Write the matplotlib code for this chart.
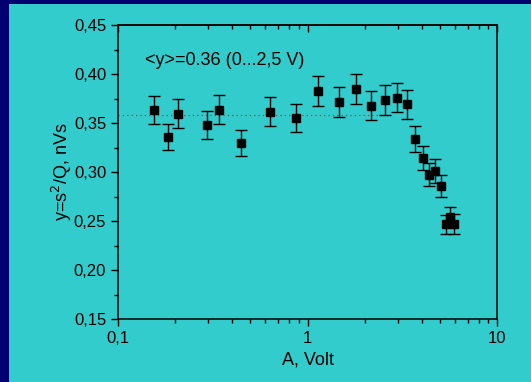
import numpy as np
import matplotlib.pyplot as plt
from matplotlib.patches import Rectangle
from matplotlib.ticker import FixedLocator, FuncFormatter, LogLocator, NullFormatter

plt.rcParams['font.family'] = ['Liberation Sans', 'DejaVu Sans']

# data
amp = [0.155, 0.184, 0.208, 0.294, 0.341, 0.448, 0.634, 0.873, 1.132, 1.467,
       1.80, 2.163, 2.55, 2.96, 3.34, 3.69, 4.07, 4.38, 4.72, 5.05,
       5.65, 5.38, 5.91]
yval = [0.3633, 0.3354, 0.3595, 0.3477, 0.3636, 0.3299, 0.3615, 0.3551, 0.3827, 0.3714,
        0.3844, 0.3677, 0.3735, 0.3758, 0.3691, 0.334, 0.314, 0.2972, 0.301, 0.2857,
        0.2541, 0.2466, 0.2469]
yerr = [0.0146, 0.0133, 0.0146, 0.0141, 0.0148, 0.0133, 0.0146, 0.0143, 0.0155, 0.015,
        0.0153, 0.0146, 0.015, 0.015, 0.0148, 0.0134, 0.0124, 0.0119, 0.0122, 0.0112,
        0.0102, 0.0098, 0.0098]
mean_y = 0.358
mean_range = [0.1, 2.7]

yticks = [0.15, 0.20, 0.25, 0.30, 0.35, 0.40, 0.45]

fig = plt.figure(figsize=(5.31, 3.82), dpi=100)
fig.patch.set_facecolor('#000070')
# cyan slide panel behind the axes
fig.patches.append(Rectangle((9 / 531, 0), 1, 1 - 4 / 382, transform=fig.transFigure,
                             facecolor='#33CCCC', edgecolor='none', zorder=-10))

ax = fig.add_axes([118 / 531, 1 - 319 / 382, (497 - 118) / 531, (319 - 25) / 382])
ax.set_facecolor('#33CCCC')

ax.plot(mean_range, [mean_y, mean_y], color='#c03030', linestyle=(0, (1, 2.5)), lw=0.9)
ax.errorbar(amp, yval, yerr=yerr, fmt='s', color='black', ms=6, ecolor='black',
            elinewidth=1, capsize=4.5, capthick=1)

ax.set_xscale('log')
ax.set_xlim(0.1, 10)
ax.set_ylim(0.15, 0.45)
ax.yaxis.set_major_locator(FixedLocator(yticks))
ax.yaxis.set_minor_locator(FixedLocator(np.arange(0.175, 0.45, 0.05)))
ax.yaxis.set_major_formatter(FuncFormatter(lambda v, p: f'{v:.2f}'.replace('.', ',')))
ax.xaxis.set_major_locator(LogLocator(base=10))
ax.xaxis.set_minor_locator(LogLocator(base=10, subs=np.arange(2, 10)))
ax.xaxis.set_minor_formatter(NullFormatter())
ax.xaxis.set_major_formatter(FuncFormatter(lambda v, p: {0.1: '0,1', 1: '1', 10: '10'}.get(round(v, 1), '')))

ax.tick_params(which='major', direction='out', length=5, width=1, labelsize=12, color='black')
ax.tick_params(which='minor', direction='out', length=3, width=1, color='black')
for sp in ax.spines.values():
    sp.set_linewidth(1.1)

# top axis: ticks pointing inward, no labels
top = ax.secondary_xaxis('top')
top.xaxis.set_major_locator(LogLocator(base=10))
top.xaxis.set_minor_locator(LogLocator(base=10, subs=np.arange(2, 10)))
top.xaxis.set_major_formatter(NullFormatter())
top.xaxis.set_minor_formatter(NullFormatter())
top.tick_params(which='major', direction='in', length=5, width=1)
top.tick_params(which='minor', direction='in', length=3, width=1)
top.spines['top'].set_linewidth(1.1)

ax.set_xlabel('A, Volt', fontsize=13, labelpad=4)
ax.set_ylabel('y=s$^2$/Q, nVs', fontsize=13, labelpad=0)
ax.text(0.071, 0.88, '<y>=0.36 (0...2,5 V)', transform=ax.transAxes, fontsize=13, va='center')

fig.savefig('out.png', dpi=100, facecolor=fig.get_facecolor())
